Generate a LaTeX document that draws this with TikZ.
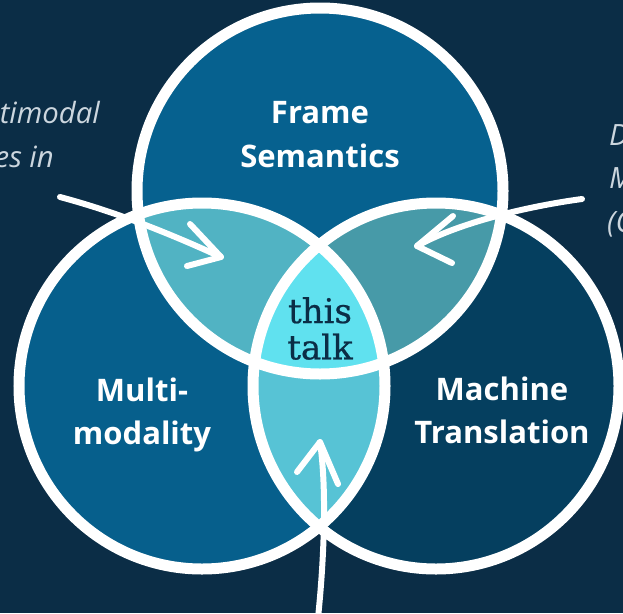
\documentclass[tikz,border=0pt]{standalone}
\usepackage{fontspec}
\setmainfont{Open Sans}
\newfontface\slabfont{DejaVu Serif}[FakeBold=0.6]
\definecolor{bg}{HTML}{0B2D46}
\definecolor{topfill}{HTML}{06618F}
\definecolor{leftfill}{HTML}{065F8C}
\definecolor{rightfill}{HTML}{053F5F}
\definecolor{tlfill}{HTML}{51B3C3}
\definecolor{trfill}{HTML}{479AA8}
\definecolor{lrfill}{HTML}{57C3D5}
\definecolor{midfill}{HTML}{60E1EF}
\definecolor{sidegrey}{HTML}{CCD6DE}
\definecolor{inktext}{HTML}{0B2D46}
\begin{document}
\begin{tikzpicture}[x=0.03cm,y=-0.03cm,
  ring/.style={draw=white,line width=0.33cm},
  lbl/.style={text=white,font=\fontsize{26.5}{37}\selectfont\bfseries,align=center,inner sep=0pt},
  side/.style={text=sidegrey,font=\fontsize{25}{37}\selectfont\itshape,inner sep=0pt},
  pen/.style={draw=white,line width=0.18cm,line cap=round,line join=round}]
\useasboundingbox (0,0) rectangle (623,613);
\clip (0,0) rectangle (623,613);
\fill[bg] (0,0) rectangle (623,613);

% circle centres
\coordinate (T) at (320,191);
\coordinate (L) at (202,386);
\coordinate (R) at (436,386);

% base fills
\fill[topfill]   (T) circle[radius=183];
\fill[leftfill]  (L) circle[radius=183];
\fill[rightfill] (R) circle[radius=183];

% pairwise overlaps
\begin{scope}
  \clip (T) circle[radius=183];
  \fill[tlfill] (L) circle[radius=183];
  \fill[trfill] (R) circle[radius=183];
\end{scope}
\begin{scope}
  \clip (L) circle[radius=183];
  \fill[lrfill] (R) circle[radius=183];
\end{scope}
% triple overlap
\begin{scope}
  \clip (T) circle[radius=183];
  \clip (L) circle[radius=183];
  \fill[midfill] (R) circle[radius=183];
\end{scope}

% white rims
\draw[ring] (T) circle[radius=183];
\draw[ring] (L) circle[radius=183];
\draw[ring] (R) circle[radius=183];

% labels
\node[lbl] (fs) at (320,134.5) {Frame\\Semantics};
\node[lbl] (mm) at (142,415) {Multi-\\modality};
\node[lbl] (mt) at (502,410.5) {Machine\\Translation};
\node[text=inktext,font=\slabfont\fontsize{29}{31}\selectfont,align=center,inner sep=0pt] (tt) at (320,328.5) {this\\talk};

% side notes running off the edges
\node[side,anchor=base east] (l1) at (100,123) {timodal};
\node[side,anchor=base east] (l2) at (54,167) {es in};
\node[side,anchor=base west] (r1) at (609,145) {D};
\node[side,anchor=base west] (r2) at (609,188) {M};
\node[side,anchor=base west] (r3) at (607,232) {(C};

% hand-drawn pointers
\coordinate (a1s) at (60,197);
\coordinate (a1t) at (221,257);
\coordinate (a1u) at (190,224);
\coordinate (a1d) at (187,266);
\draw[pen] (a1s) .. controls (120,213) and (175,236) .. (a1t);
\draw[pen] (a1u) -- (a1t) -- (a1d);

\coordinate (a2s) at (582,199);
\coordinate (a2t) at (417,246);
\coordinate (a2u) at (453,216);
\coordinate (a2d) at (452,263);
\draw[pen] (a2s) .. controls (530,206) and (460,222) .. (a2t);
\draw[pen] (a2u) -- (a2t) -- (a2d);

\coordinate (a3s) at (318,618);
\coordinate (a3t) at (320,442);
\coordinate (a3u) at (297,472);
\coordinate (a3d) at (338,484);
\draw[pen] (a3s) .. controls (324,560) and (327,490) .. (a3t);
\draw[pen] (a3u) -- (a3t) -- (a3d);
\end{tikzpicture}
\end{document}
